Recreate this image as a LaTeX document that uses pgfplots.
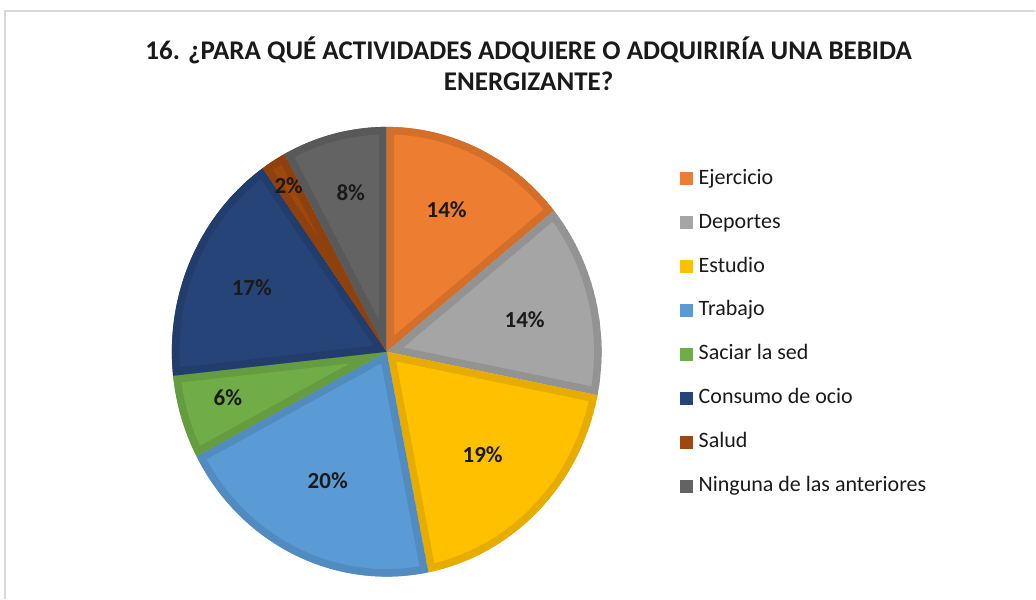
\documentclass[border=0pt]{standalone}
\usepackage{pgfplots}
\pgfplotsset{compat=1.18}
\usepackage{pgfplotstable}
\usepackage{fontspec}
\setmainfont{Carlito}

\definecolor{c1}{HTML}{ED7D31} \definecolor{b1}{HTML}{D46F2A}
\definecolor{c2}{HTML}{A5A5A5} \definecolor{b2}{HTML}{939393}
\definecolor{c3}{HTML}{FFC000} \definecolor{b3}{HTML}{E6AC00}
\definecolor{c4}{HTML}{5B9BD5} \definecolor{b4}{HTML}{528BBF}
\definecolor{c5}{HTML}{70AD47} \definecolor{b5}{HTML}{659C40}
\definecolor{c6}{HTML}{264478} \definecolor{b6}{HTML}{223D6B}
\definecolor{c7}{HTML}{9E480E} \definecolor{b7}{HTML}{8E410C}
\definecolor{c8}{HTML}{636363} \definecolor{b8}{HTML}{595959}
\definecolor{txt}{HTML}{1A1A1A}

% value = share of answers (%), label = shown percentage, lx/ly = label position
\pgfplotstableread{
name value label lx ly
Ejercicio 14.2 14 447 389
Deportes 13.9 14 525 279
Estudio 18.8 19 483 144
Trabajo 20.4 20 328 118
Saciar 6.0 6 228 201
Consumo 16.9 17 252 311
Salud 1.9 2 289 413
Ninguna 7.9 8 351 406
}\pietable

\newcommand\labfont{\fontsize{23}{23}\selectfont\bfseries\color{txt}}

\begin{document}
\begin{tikzpicture}
\begin{axis}[
  scale only axis, width=1036pt, height=599pt,
  xmin=0, xmax=1036, ymin=0, ymax=599,
  hide axis, clip=false,
  legend image code/.code={\fill[#1, draw=none] (0pt,-1pt) rectangle (13pt,12pt);},
  legend style={draw=none, fill=none, at={(axis cs:677,431)}, anchor=north west,
    font=\fontsize{22}{22}\selectfont\color{txt},
    nodes={inner sep=0pt, anchor=base west, text height=14pt, text depth=4pt},
    row sep=26pt, column sep=6pt, cells={anchor=base west}},
  legend cell align=left,
]
\path (axis cs:0,0) (axis cs:1036,599);
\draw[black!15, line width=1.5pt] (axis cs:5,0) -- (axis cs:5,588) -- (axis cs:1036,588);
\node[font=\fontsize{27}{31}\selectfont\bfseries, text=txt, align=center, anchor=center]
  at (axis cs:529,535) {16. ¿PARA QUÉ ACTIVIDADES ADQUIERE O ADQUIRIRÍA UNA BEBIDA\\ENERGIZANTE?};

\pgfmathsetmacro\cum{0}
\pgfplotsforeachungrouped \i in {0,...,7}{
  \pgfplotstablegetelem{\i}{value}\of\pietable \let\v\pgfplotsretval
  \pgfplotstablegetelem{\i}{label}\of\pietable \let\lab\pgfplotsretval
  \pgfplotstablegetelem{\i}{lx}\of\pietable \let\lx\pgfplotsretval
  \pgfplotstablegetelem{\i}{ly}\of\pietable \let\ly\pgfplotsretval
  \pgfmathtruncatemacro\k{\i+1}
  \pgfmathsetmacro\sa{90-3.6*\cum}
  \pgfmathsetmacro\cum{\cum+\v}
  \pgfmathsetmacro\ea{90-3.6*\cum}
  \pgfmathsetmacro\xs{387+215*cos(\sa)}
  \pgfmathsetmacro\ys{247+225*sin(\sa)}
  \edef\temp{%
    \noexpand\begin{scope}
    \noexpand\clip (axis cs:387,247) -- (axis cs:\xs,\ys) arc[start angle=\sa, end angle=\ea, x radius=215pt, y radius=225pt] -- cycle;
    \noexpand\fill[c\k] (axis cs:387,247) -- (axis cs:\xs,\ys) arc[start angle=\sa, end angle=\ea, x radius=215pt, y radius=225pt] -- cycle;
    \noexpand\draw[b\k, line width=15pt, line join=round] (axis cs:387,247) -- (axis cs:\xs,\ys) arc[start angle=\sa, end angle=\ea, x radius=215pt, y radius=225pt] -- cycle;
    \noexpand\end{scope}
    \noexpand\node[inner sep=0pt] at (axis cs:\lx,\ly) {\noexpand\labfont \lab\noexpand\%};
  }
  \temp
}

\addlegendimage{fill=c1}
\addlegendimage{fill=c2}
\addlegendimage{fill=c3}
\addlegendimage{fill=c4}
\addlegendimage{fill=c5}
\addlegendimage{fill=c6}
\addlegendimage{fill=c7}
\addlegendimage{fill=c8}
\legend{Ejercicio, Deportes, Estudio, Trabajo, Saciar la sed, Consumo de ocio, Salud, Ninguna de las anteriores}
\end{axis}
\end{tikzpicture}
\end{document}
